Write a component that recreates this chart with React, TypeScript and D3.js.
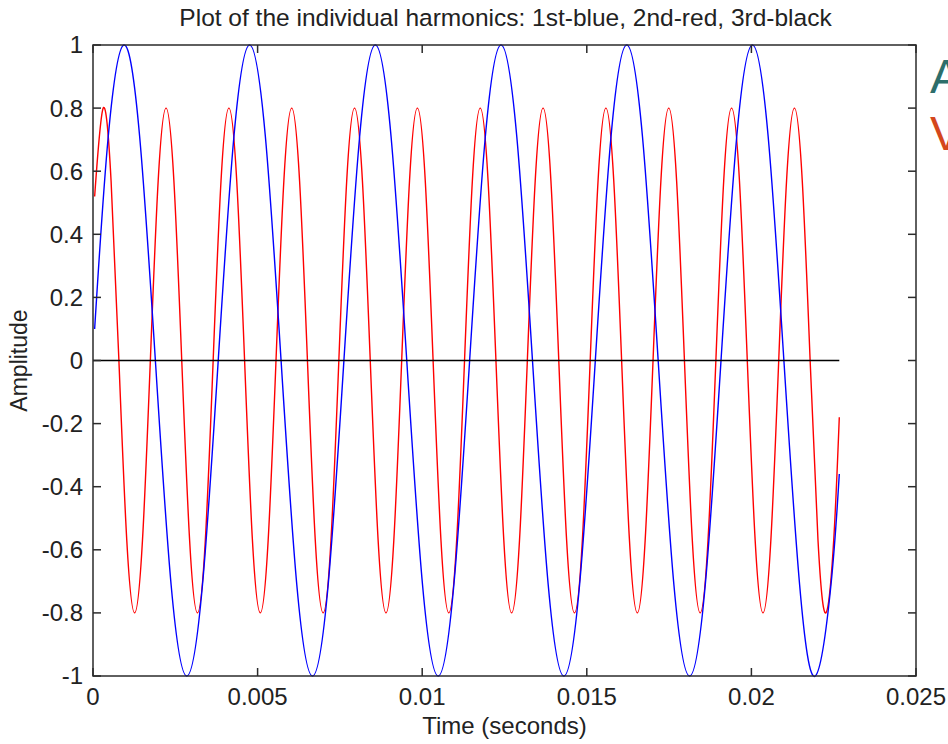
import { useEffect, useRef } from 'react';
import * as d3 from 'd3';

// ---- data ----
const TITLE = 'Plot of the individual harmonics: 1st-blue, 2nd-red, 3rd-black';
const X_LABEL = 'Time (seconds)';
const Y_LABEL = 'Amplitude';

const xTicks = [0, 0.005, 0.01, 0.015, 0.02, 0.025];
const xTickLabels = ['0', '0.005', '0.01', '0.015', '0.02', '0.025'];
const yTicks = [-1, -0.8, -0.6, -0.4, -0.2, 0, 0.2, 0.4, 0.6, 0.8, 1];
const yTickLabels = ['-1', '-0.8', '-0.6', '-0.4', '-0.2', '0', '0.2', '0.4', '0.6', '0.8', '1'];

// 1st harmonic (blue), sampled at peaks / zeros / in between
const blueT = [
  0.00005, 0.000463, 0.00094, 0.001417, 0.001895, 0.002372, 0.002849, 0.003327, 0.003804,
  0.004281, 0.004758, 0.005236, 0.005713, 0.00619, 0.006668, 0.007145, 0.007622,
  0.0081, 0.008577, 0.009054, 0.009531, 0.010009, 0.010486, 0.010963, 0.011441,
  0.011918, 0.012395, 0.012873, 0.01335, 0.013827, 0.014304, 0.014782, 0.015259,
  0.015736, 0.016214, 0.016691, 0.017168, 0.017645, 0.018123, 0.0186, 0.019077,
  0.019555, 0.020032, 0.020509, 0.020987, 0.021464, 0.021941, 0.022418, 0.02267,
];
const blueY = [
  0.1,
  0.71, 1, 0.71, 0, -0.71, -1, -0.71, 0,
  0.71, 1, 0.71, 0, -0.71, -1, -0.71, 0,
  0.71, 1, 0.71, 0, -0.71, -1, -0.71, 0,
  0.71, 1, 0.71, 0, -0.71, -1, -0.71, 0,
  0.71, 1, 0.71, 0, -0.71, -1, -0.71, 0,
  0.71, 1, 0.71, 0, -0.71, -1, -0.71,
  -0.36,
];

// 2nd harmonic (red)
const redT = [
  0.00005,
  0.00031, 0.000549, 0.000787, 0.001026, 0.001265, 0.001503, 0.001742, 0.00198,
  0.002219, 0.002457, 0.002696, 0.002935, 0.003173, 0.003412, 0.00365, 0.003889,
  0.004128, 0.004366, 0.004605, 0.004843, 0.005082, 0.005321, 0.005559, 0.005798,
  0.006036, 0.006275, 0.006514, 0.006752, 0.006991, 0.007229, 0.007468, 0.007707,
  0.007945, 0.008184, 0.008422, 0.008661, 0.0089, 0.009138, 0.009377, 0.009615,
  0.009854, 0.010093, 0.010331, 0.01057, 0.010808, 0.011047, 0.011286, 0.011524,
  0.011763, 0.012001, 0.01224, 0.012479, 0.012717, 0.012956, 0.013194, 0.013433,
  0.013672, 0.01391, 0.014149, 0.014387, 0.014626, 0.014865, 0.015103, 0.015342,
  0.01558, 0.015819, 0.016058, 0.016296, 0.016535, 0.016773, 0.017012, 0.017251,
  0.017489, 0.017728, 0.017966, 0.018205, 0.018444, 0.018682, 0.018921, 0.019159,
  0.019398, 0.019637, 0.019875, 0.020114, 0.020352, 0.020591, 0.02083, 0.021068,
  0.021307, 0.021545, 0.021784, 0.022023, 0.022261, 0.0225,
  0.02267,
];
const redY = [
  0.52,
  0.8, 0.57, 0, -0.57, -0.8, -0.57, 0, 0.57,
  0.8, 0.57, 0, -0.57, -0.8, -0.57, 0, 0.57,
  0.8, 0.57, 0, -0.57, -0.8, -0.57, 0, 0.57,
  0.8, 0.57, 0, -0.57, -0.8, -0.57, 0, 0.57,
  0.8, 0.57, 0, -0.57, -0.8, -0.57, 0, 0.57,
  0.8, 0.57, 0, -0.57, -0.8, -0.57, 0, 0.57,
  0.8, 0.57, 0, -0.57, -0.8, -0.57, 0, 0.57,
  0.8, 0.57, 0, -0.57, -0.8, -0.57, 0, 0.57,
  0.8, 0.57, 0, -0.57, -0.8, -0.57, 0, 0.57,
  0.8, 0.57, 0, -0.57, -0.8, -0.57, 0, 0.57,
  0.8, 0.57, 0, -0.57, -0.8, -0.57, 0, 0.57,
  0.8, 0.57, 0, -0.57, -0.8, -0.57,
  -0.18,
];

// 3rd harmonic (black) is flat at zero
const blackT = [0, 0.02267];
const blackY = [0, 0];

const font = "'Liberation Sans', Arial, Helvetica, sans-serif";
const AXIS = '#2b2b2b';
const TEXT = '#222';

export default function App() {
  const svgRef = useRef<SVGSVGElement | null>(null);

  useEffect(() => {
    if (!svgRef.current) return;
    const svg = d3.select(svgRef.current);
    svg.selectAll('*').remove();

    const width = 948, height = 744;
    const margin = { top: 45, right: 32, bottom: 68, left: 93 };
    const iW = width - margin.left - margin.right;
    const iH = height - margin.top - margin.bottom;

    svg.attr('width', width).attr('height', height);
    svg.append('rect').attr('width', width).attr('height', height).attr('fill', '#fff');

    const g = svg.append('g').attr('transform', `translate(${margin.left},${margin.top})`);

    const x = d3.scaleLinear().domain([0, 0.025]).range([0, iW]);
    const y = d3.scaleLinear().domain([-1, 1]).range([iH, 0]);

    // series
    const series = [
      { t: blueT, v: blueY, color: '#0000ff' },
      { t: redT, v: redY, color: '#ff0000' },
      { t: blackT, v: blackY, color: '#000000' },
    ];
    const line = d3.line<[number, number]>()
      .x(d => x(d[0])).y(d => y(d[1]))
      .curve(d3.curveNatural);
    // draw red first, then blue, then black on top
    [series[1], series[0], series[2]].forEach(s => {
      const pts = s.t.map((t, i) => [t, s.v[i]] as [number, number]);
      g.append('path').datum(pts)
        .attr('fill', 'none').attr('stroke', s.color).attr('stroke-width', 1.4)
        .attr('d', line);
    });

    // box
    g.append('rect').attr('width', iW).attr('height', iH)
      .attr('fill', 'none').attr('stroke', AXIS).attr('stroke-width', 1.5);

    const tk = 8;
    // x ticks (bottom + top, inward)
    const xt = g.append('g');
    xTicks.forEach((v, i) => {
      const px = x(v);
      xt.append('line').attr('x1', px).attr('x2', px).attr('y1', iH).attr('y2', iH - tk)
        .attr('stroke', AXIS).attr('stroke-width', 1.5);
      xt.append('line').attr('x1', px).attr('x2', px).attr('y1', 0).attr('y2', tk)
        .attr('stroke', AXIS).attr('stroke-width', 1.5);
      xt.append('text').attr('x', px).attr('y', iH + 29)
        .attr('text-anchor', 'middle').attr('font-family', font).attr('font-size', 24)
        .attr('fill', TEXT).text(xTickLabels[i]);
    });

    // y ticks (left + right, inward)
    const yt = g.append('g');
    yTicks.forEach((v, i) => {
      const py = y(v);
      yt.append('line').attr('x1', 0).attr('x2', tk).attr('y1', py).attr('y2', py)
        .attr('stroke', AXIS).attr('stroke-width', 1.5);
      yt.append('line').attr('x1', iW).attr('x2', iW - tk).attr('y1', py).attr('y2', py)
        .attr('stroke', AXIS).attr('stroke-width', 1.5);
      yt.append('text').attr('x', -10).attr('y', py).attr('dy', '0.35em')
        .attr('text-anchor', 'end').attr('font-family', font).attr('font-size', 24)
        .attr('fill', TEXT).text(yTickLabels[i]);
    });

    // title and axis labels
    svg.append('text').attr('x', margin.left + iW / 2 + 1).attr('y', 26)
      .attr('text-anchor', 'middle').attr('font-family', font).attr('font-size', 24.5)
      .attr('fill', TEXT).text(TITLE);
    svg.append('text').attr('x', margin.left + iW / 2).attr('y', 734)
      .attr('text-anchor', 'middle').attr('font-family', font).attr('font-size', 24)
      .attr('fill', TEXT).text(X_LABEL);
    svg.append('text').attr('transform', `translate(27,${margin.top + iH / 2}) rotate(-90)`)
      .attr('text-anchor', 'middle').attr('font-family', font).attr('font-size', 23)
      .attr('fill', TEXT).text(Y_LABEL);

    // slide text cut off at the right edge
    svg.append('text').attr('x', 930).attr('y', 93)
      .attr('font-family', font).attr('font-size', 48).attr('fill', '#2d6e6b').text('A');
    svg.append('text').attr('x', 930).attr('y', 150)
      .attr('font-family', font).attr('font-size', 48).attr('fill', '#d4471c').text('V');
  }, []);

  return (
    <div style={{ position: 'absolute', left: 0, top: 0, width: 948, height: 744, background: '#fff' }}>
      <svg ref={svgRef} style={{ display: 'block' }} />
    </div>
  );
}
